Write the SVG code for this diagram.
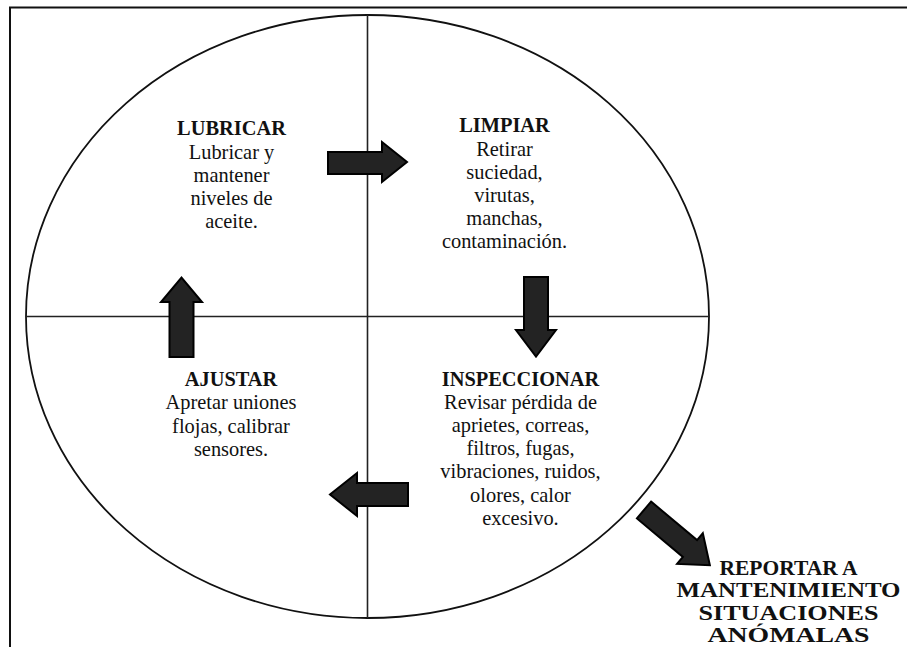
<svg xmlns="http://www.w3.org/2000/svg" width="907" height="647" viewBox="0 0 907 647">
  <style>
    .frame { fill: none; stroke: #111; stroke-width: 2; }
    .outline { fill: none; stroke: #111; stroke-width: 1.8; }
    .axis { stroke: #222; stroke-width: 1.6; }
    .arrow { fill: #232323; stroke: #000; stroke-width: 2; stroke-linejoin: miter; }
    text { font-family: "Liberation Serif", "Times New Roman", serif; font-size: 20.4px; fill: #111; text-anchor: middle; }
    .title { font-weight: bold; }
  </style>

  <!-- page frame (top and left edges) -->
  <path class="frame" d="M10,647 V7.5 H907"/>

  <!-- cycle: ellipse split into four quadrants -->
  <g id="cycle">
    <ellipse class="outline" cx="367.5" cy="316.5" rx="341.5" ry="301.5"/>
    <line class="axis" x1="367.5" y1="15" x2="367.5" y2="618"/>
    <line class="axis" x1="26" y1="316.5" x2="709" y2="316.5"/>
  </g>

  <g id="lubricar">
    <text class="title" x="231.5" y="135">LUBRICAR</text>
    <text x="231.5" y="159">Lubricar y</text>
    <text x="231.5" y="182">mantener</text>
    <text x="231.5" y="205">niveles de</text>
    <text x="231.5" y="228">aceite.</text>
  </g>

  <g id="limpiar">
    <text class="title" x="504.5" y="132">LIMPIAR</text>
    <text x="504.5" y="156">Retirar</text>
    <text x="504.5" y="179">suciedad,</text>
    <text x="504.5" y="202">virutas,</text>
    <text x="504.5" y="225">manchas,</text>
    <text x="504.5" y="248">contaminación.</text>
  </g>

  <g id="ajustar">
    <text class="title" x="231" y="386">AJUSTAR</text>
    <text x="231" y="409">Apretar uniones</text>
    <text x="231" y="432.5">flojas, calibrar</text>
    <text x="231" y="455.5">sensores.</text>
  </g>

  <g id="inspeccionar">
    <text class="title" x="520.5" y="386">INSPECCIONAR</text>
    <text x="520.5" y="409">Revisar pérdida de</text>
    <text x="520.5" y="432">aprietes, correas,</text>
    <text x="520.5" y="455">filtros, fugas,</text>
    <text x="520.5" y="478">vibraciones, ruidos,</text>
    <text x="520.5" y="501.5">olores, calor</text>
    <text x="520.5" y="525">excesivo.</text>
  </g>

  <!-- wide bold caption, stretched to its column -->
  <g id="reportar">
    <text class="title" x="788.5" y="575" textLength="138" lengthAdjust="spacingAndGlyphs">REPORTAR A</text>
    <text class="title" x="788.5" y="597" textLength="224" lengthAdjust="spacingAndGlyphs">MANTENIMIENTO</text>
    <text class="title" x="788.5" y="619.5" textLength="180" lengthAdjust="spacingAndGlyphs">SITUACIONES</text>
    <text class="title" x="788.5" y="642" textLength="162" lengthAdjust="spacingAndGlyphs">ANÓMALAS</text>
  </g>

  <!-- block arrows between the steps -->
  <g id="connectors">
    <!-- LUBRICAR to LIMPIAR -->
    <path class="arrow" d="M328,152 H382 V142 L407,162 L382,182 V174 H328 Z"/>
    <!-- LIMPIAR to INSPECCIONAR -->
    <path class="arrow" d="M524,277 H548 V330 H556 L536,356.5 L516,330 H524 Z"/>
    <!-- INSPECCIONAR to AJUSTAR -->
    <path class="arrow" d="M408,483 V506 H357 V516 L330,494.5 L357,473 V483 Z"/>
    <!-- AJUSTAR to LUBRICAR -->
    <path class="arrow" d="M169.5,357 V302 H161 L181.5,277.5 L202,302 H193.5 V357 Z"/>
    <!-- INSPECCIONAR to REPORTAR -->
    <path class="arrow" transform="translate(644,510) rotate(40)" d="M0,-11 H60 V-20 L86,0 L60,20 V11 H0 Z"/>
  </g>
</svg>
